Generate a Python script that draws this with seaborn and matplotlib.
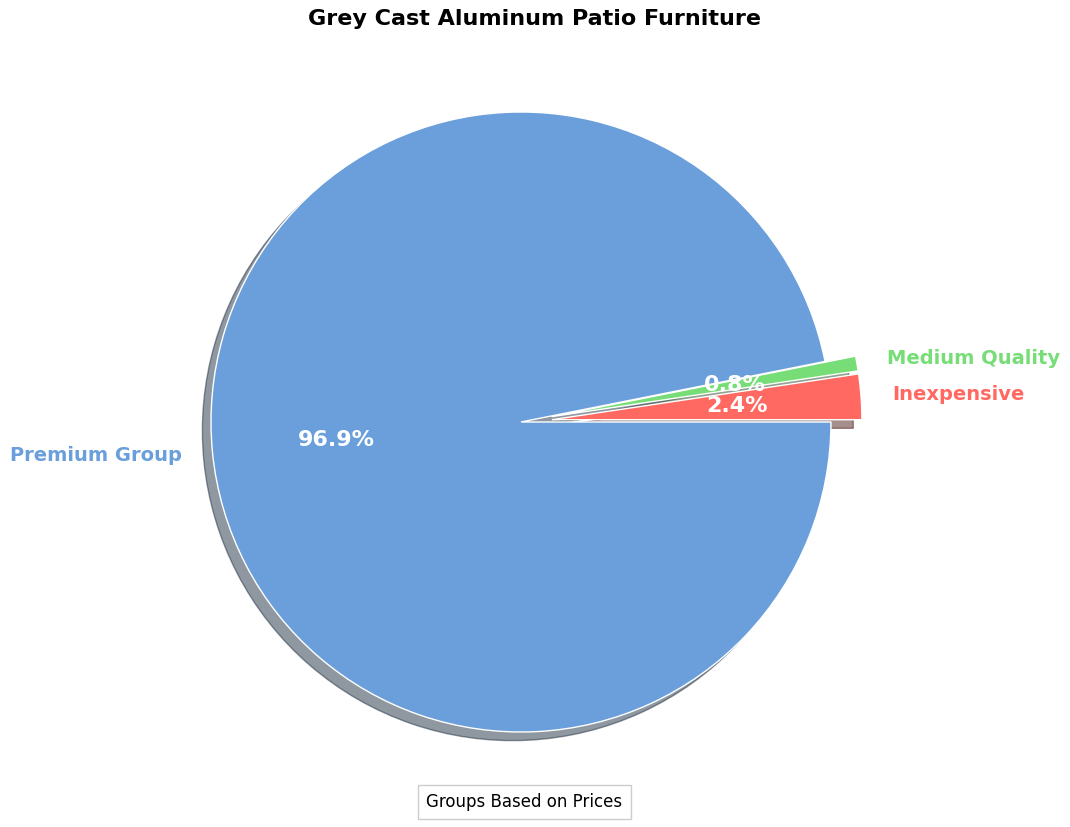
import matplotlib
matplotlib.use("Agg")
import matplotlib.pyplot as plt
import seaborn as sns

sns.set_theme(style="white")
plt.rcParams['font.family'] = ['DejaVu Sans']

labels = ["Inexpensive", "Medium Quality", "Premium Group"]
values = [2.36, 0.77, 96.87]
colors = ["#FF6961", "#77DD77", "#6A9FDB"]
explode = [0.1, 0.1, 0.0]

fig = plt.figure(figsize=(10.7, 8.27), dpi=100)
ax = fig.add_axes([0, 0, 1, 1])
wedges, texts, autotexts = ax.pie(values, labels=labels, colors=colors, explode=explode,
                                  autopct='%1.1f%%', shadow=True, startangle=0,
                                  textprops={'fontsize': 14, 'fontweight': 'bold'})
for t, c in zip(texts, colors):
    t.set_color(c)
for a in autotexts:
    a.set_color('white')
    a.set_fontsize(16)
ax.set_xlim(-521/310, 549/310)
ax.set_ylim(-405/310, 422/310)
ax.set_aspect('equal', adjustable='datalim')
ax.axis('off')
fig.text(0.5, 1 - 19/827, "Grey Cast Aluminum Patio Furniture", ha='center', va='center',
         fontsize=16, fontweight='bold', color='black')
fig.text(0.49, 0.024, "Groups Based on Prices", ha='center', fontsize=12, color='black',
         bbox=dict(facecolor='white', edgecolor='#cccccc', boxstyle='square,pad=0.5'))
fig.savefig("out.png", dpi=100)
